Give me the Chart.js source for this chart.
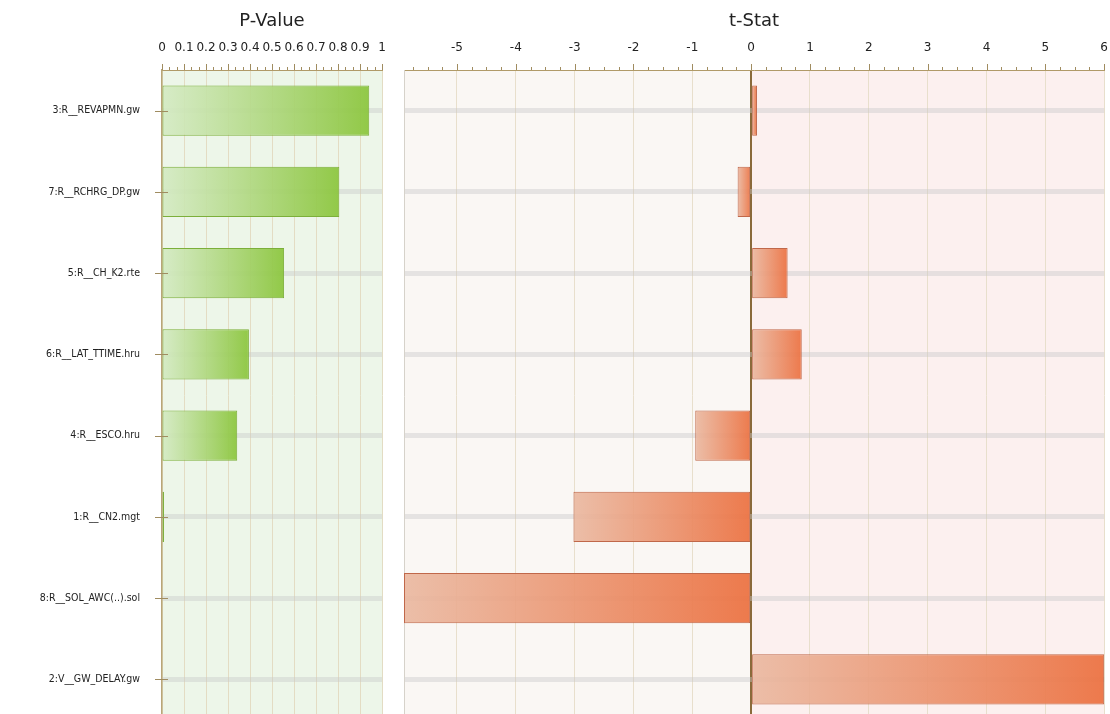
<!DOCTYPE html>
<html>
<head>
<meta charset="utf-8">
<script src="https://cdn.jsdelivr.net/npm/chart.js@4"></script>
<style>
html, body { margin: 0; background: #fff; overflow: hidden; width: 1110px; height: 714px; }
#pChart { position: absolute; left: 0; top: 0; }
#tChart { position: absolute; left: 395px; top: 0; }
</style>
</head>
<body>
<canvas id="pChart" width="395" height="730"></canvas>
<canvas id="tChart" width="715" height="730"></canvas>
<script>
// data
var categories = ["3:R__REVAPMN.gw", "7:R__RCHRG_DP.gw", "5:R__CH_K2.rte", "6:R__LAT_TTIME.hru", "4:R__ESCO.hru", "1:R__CN2.mgt", "8:R__SOL_AWC(..).sol", "2:V__GW_DELAY.gw"];
var pValues = [0.942, 0.806, 0.555, 0.395, 0.342, 0.009, 0, 0];
var tStats = [0.1, -0.23, 0.62, 0.86, -0.95, -3.02, -5.9, 6.0];
var pTicks = [0, 0.1, 0.2, 0.3, 0.4, 0.5, 0.6, 0.7, 0.8, 0.9, 1];
var tTicks = [-5, -4, -3, -2, -1, 0, 1, 2, 3, 4, 5, 6];

Chart.defaults.font.family = "'DejaVu Sans', sans-serif";
Chart.defaults.color = '#222';

// gradient light -> strong over each bar
function gradFill(c0, c1) {
	return function (ctx) {
		var chart = ctx.chart, x = chart.scales.x;
		if (ctx.type !== 'data' || !x || !ctx.parsed) return c1;
		var v = ctx.parsed.x;
		var a = x.getPixelForValue(Math.min(0, v)), b = x.getPixelForValue(Math.max(0, v));
		if (!(b - a > 1)) return c1;
		var g = chart.ctx.createLinearGradient(a, 0, b, 0);
		g.addColorStop(0, c0);
		g.addColorStop(1, c1);
		return g;
	};
}

// plot backgrounds, split at zero
var panelBg = {
	id: 'panelBg',
	beforeDraw: function (chart, args, opts) {
		var a = chart.chartArea, c = chart.ctx, x = chart.scales.x;
		var z = Math.max(a.left, Math.min(a.right, x.getPixelForValue(0)));
		c.save();
		c.fillStyle = opts.neg;
		c.fillRect(a.left, a.top, z - a.left, a.bottom - a.top);
		c.fillStyle = opts.pos;
		c.fillRect(z, a.top, a.right - z, a.bottom - a.top);
		c.restore();
	}
};

// major and minor ticks on the top axis
var axisTicks = {
	id: 'axisTicks',
	afterDraw: function (chart, args, opts) {
		var x = chart.scales.x, c = chart.ctx, top = chart.chartArea.top;
		c.save();
		c.strokeStyle = '#a08c60';
		c.lineWidth = 1;
		c.beginPath();
		for (var i = Math.ceil(x.min / opts.step - 1e-6); i * opts.step <= x.max + 1e-9; i++) {
			var px = Math.round(x.getPixelForValue(i * opts.step)) + 0.5;
			c.moveTo(px, top);
			c.lineTo(px, top - 3);
		}
		opts.major.forEach(function (v) {
			var px = Math.round(x.getPixelForValue(v)) + 0.5;
			c.moveTo(px, top);
			c.lineTo(px, top - 6);
		});
		c.stroke();
		c.restore();
	}
};

// dashes across the category axis
var rowTicks = {
	id: 'rowTicks',
	afterDraw: function (chart) {
		var y = chart.scales.y, c = chart.ctx, left = chart.chartArea.left;
		c.save();
		c.strokeStyle = '#a08c60';
		c.lineWidth = 1;
		c.beginPath();
		for (var i = 0; i < categories.length; i++) {
			var py = Math.round(y.getPixelForValue(i)) + 0.5;
			c.moveTo(left - 7, py);
			c.lineTo(left + 6, py);
		}
		c.stroke();
		c.restore();
	}
};

function xScale(title, min, max, ticks, gridColor) {
	return {
		type: 'linear',
		position: 'top',
		min: min,
		max: max,
		afterBuildTicks: function (scale) {
			scale.ticks = ticks.map(function (v) { return { value: v }; });
		},
		afterFit: function (scale) { scale.height = 70; },
		title: { display: true, text: title, color: '#222', font: { size: 18 }, padding: { top: 11, bottom: 4 } },
		ticks: {
			font: { size: 12 }, color: '#222', padding: 2, maxRotation: 0, autoSkip: false,
			callback: function (v) { return String(+Number(v).toFixed(2)); }
		},
		border: { display: true, color: '#b09a68', width: 1 },
		grid: {
			color: function (ctx) { return ctx.tick && ctx.tick.value === 0 && min < 0 ? '#8a6a3a' : gridColor; },
			lineWidth: function (ctx) { return ctx.tick && ctx.tick.value === 0 && min < 0 ? 2 : 1; },
			tickColor: 'rgba(0,0,0,0)',
			tickLength: 13
		}
	};
}

// p-value
var pctx = document.getElementById('pChart').getContext('2d');
var pChart = new Chart(pctx, {
	type: 'bar',
	data: {
		labels: categories,
		datasets: [{
			data: pValues,
			backgroundColor: gradFill('rgba(212,234,195,0.9)', 'rgba(140,198,62,0.94)'),
			borderColor: '#7caf3a',
			borderWidth: 1,
			borderSkipped: false,
			barPercentage: 0.62,
			categoryPercentage: 1
		}]
	},
	options: {
		indexAxis: 'y',
		responsive: false,
		animation: false,
		layout: { padding: { right: 13, bottom: 10 } },
		plugins: { legend: { display: false }, tooltip: { enabled: false }, panelBg: { neg: '#edf6e9', pos: '#edf6e9' }, axisTicks: { step: 0.1 / 3, major: pTicks } },
		scales: {
			x: xScale('P-Value', 0, 1, pTicks, '#e3dcc3'),
			y: {
				afterFit: function (scale) { scale.width = 162; },
				ticks: { font: { family: "'DejaVu Sans Condensed', 'DejaVu Sans', sans-serif", size: 10.5 }, color: '#222', padding: 2 },
				border: { display: true, color: '#b8a678', width: 1.5 },
				grid: { offset: false, drawTicks: true, tickLength: 20, tickColor: 'rgba(0,0,0,0)', lineWidth: 5, color: 'rgba(200,200,200,0.42)' }
			}
		}
	},
	plugins: [panelBg, axisTicks, rowTicks]
});

// t-stat
var tctx = document.getElementById('tChart').getContext('2d');
var tChart = new Chart(tctx, {
	type: 'bar',
	data: {
		labels: categories,
		datasets: [{
			data: tStats,
			backgroundColor: gradFill('rgba(234,184,160,0.9)', 'rgba(236,114,66,0.94)'),
			borderColor: '#c0684a',
			borderWidth: 1,
			borderSkipped: false,
			barPercentage: 0.62,
			categoryPercentage: 1
		}]
	},
	options: {
		indexAxis: 'y',
		responsive: false,
		animation: false,
		layout: { padding: { right: 5, bottom: 10 } },
		plugins: { legend: { display: false }, tooltip: { enabled: false }, panelBg: { neg: '#faf7f4', pos: '#fcf0ef' }, axisTicks: { step: 0.25, major: tTicks } },
		scales: {
			x: xScale('t-Stat', -5.9, 6, tTicks, '#e8dfcc'),
			y: {
				afterFit: function (scale) { scale.width = 9; },
				ticks: { display: false },
				border: { display: true, color: '#d6d2ca', width: 1 },
				grid: { offset: false, drawTicks: false, lineWidth: 5, color: 'rgba(200,200,200,0.42)' }
			}
		}
	},
	plugins: [panelBg, axisTicks]
});
</script>
</body>
</html>
